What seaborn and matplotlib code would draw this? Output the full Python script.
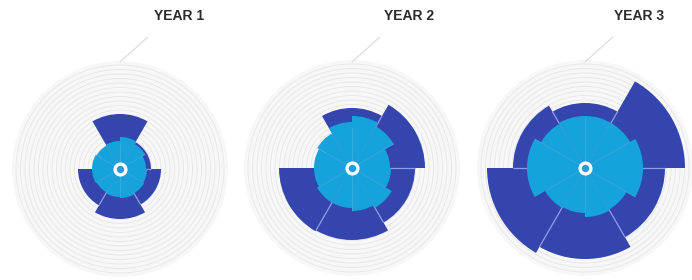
import numpy as np
import matplotlib.pyplot as plt
from matplotlib.lines import Line2D
import seaborn as sns

# panel titles
years = ['YEAR 1', 'YEAR 2', 'YEAR 3']

# outer (dark) ring: 6 sectors of 60 deg, counter-clockwise from 3 o'clock
outer_year1 = [31, 55, 22, 42, 50, 41]
outer_year2 = [73, 60, 30, 73, 72, 63]
outer_year3 = [100, 65, 72, 98, 91, 80]

# inner (light) ring: 12 sectors of 30 deg
inner_year1 = [26, 29, 32, 28, 27, 28, 28, 27, 28, 29, 28, 27]
inner_year2 = [38, 48, 52, 46, 40, 38, 38, 40, 40, 43, 46, 39]
inner_year3 = [58, 52, 52, 52, 51, 58, 58, 46, 45, 49, 48, 58]

outer_values = [outer_year1, outer_year2, outer_year3]
inner_values = [inner_year1, inner_year2, inner_year3]

r_max = 108

dark_blue = '#3446ae'
light_blue = '#16a2db'
sep_color = '#8f9ce0'

W, H = 692, 280
centers = [(120, 169), (352, 168), (585, 168)]
title_x = [179, 409, 639]

sns.set_theme(style='white')
fig = plt.figure(figsize=(W / 100, H / 100), dpi=100)
fig.patch.set_facecolor('white')

for i, year in enumerate(years):
    cx, cy = centers[i]
    ax = fig.add_axes([(cx - r_max) / W, (H - cy - r_max) / H, 2 * r_max / W, 2 * r_max / H],
                      projection='polar')
    ax.set_facecolor('#f7f7f7')
    ax.set_ylim(0, r_max)
    ax.set_rticks(np.arange(5, r_max - 2, 4.5))
    ax.set_yticklabels([])
    ax.set_xticks([])
    ax.grid(True, color='#e6e6e6', linewidth=0.6)
    ax.set_axisbelow(True)
    ax.spines['polar'].set_visible(False)

    outer = np.array(outer_values[i])
    inner = np.array(inner_values[i])

    n_out = len(outer)
    theta_out = np.deg2rad(np.arange(n_out) * 360 / n_out + 180 / n_out)
    ax.bar(theta_out, outer, width=np.deg2rad(360 / n_out), color=dark_blue,
           edgecolor='none', zorder=2)
    # separators between neighbouring dark sectors
    bounds = np.deg2rad(np.arange(n_out) * 360 / n_out)
    ax.vlines(bounds, 0, np.minimum(outer, np.roll(outer, 1)), color=sep_color,
              linewidth=0.9, zorder=2.5)

    n_in = len(inner)
    theta_in = np.deg2rad(np.arange(n_in) * 360 / n_in + 180 / n_in)
    ax.bar(theta_in, inner, width=np.deg2rad(360 / n_in), color=light_blue,
           edgecolor='none', zorder=3)
    in_bounds = np.deg2rad(np.arange(0, n_in, 2) * 360 / n_in + 360 / n_in)
    in_len = np.minimum(inner[1::2], np.roll(inner, -1)[1::2])
    ax.vlines(in_bounds, 0, in_len, color='#3fb0e0', linewidth=0.5, zorder=3.5)

    # centre badge
    ax.scatter([0], [0], s=60, color=light_blue, edgecolors='white',
               linewidths=2.4, zorder=5)

    fig.text(title_x[i] / W, 1 - 16 / H, year, ha='center', va='center',
             fontsize=10, fontweight='bold', color='#2b2b2b',
             family=['Liberation Sans', 'DejaVu Sans'])
    fig.add_artist(Line2D([(cx + 28) / W, cx / W], [1 - 37 / H, 1 - 62 / H],
                          color='#dadada', linewidth=0.8))

plt.savefig('out.png', dpi=100)
